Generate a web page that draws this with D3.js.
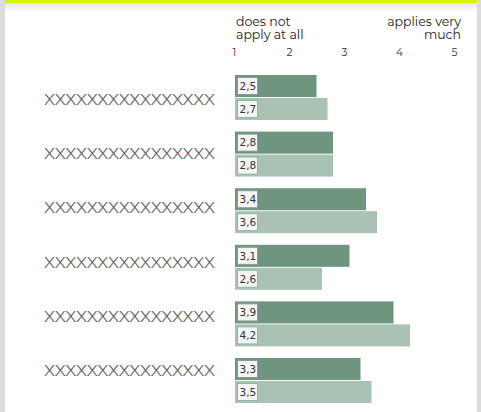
<!DOCTYPE html>
<html><head><meta charset="utf-8">
<script src="https://cdn.jsdelivr.net/npm/d3@7"></script>
<style>html,body{margin:0;padding:0;background:#fff;}svg{display:block;}</style>
</head><body>
<svg id="c" width="481" height="412"></svg>
<script>
const categories = ["XXXXXXXXXXXXXXXX","XXXXXXXXXXXXXXXX ","XXXXXXXXXXXXXXXX  ","XXXXXXXXXXXXXXXX   ","XXXXXXXXXXXXXXXX    ","XXXXXXXXXXXXXXXX     "];
const series = ["a","b"];
const valuesA = [2.5, 2.8, 3.4, 3.1, 3.9, 3.3];
const valuesB = [2.7, 2.8, 3.6, 2.6, 4.2, 3.5];
const tickValues = [1,2,3,4,5];
const headerLeft = ["does not","apply at all"];
const headerRight = ["applies very","much"];

const svg = d3.select("#c");
const font = "Montserrat, 'Open Sans', 'DejaVu Sans', sans-serif";

// card background
svg.append("rect").attr("x",0).attr("y",0).attr("width",481).attr("height",412).attr("fill","#ffffff");
svg.append("rect").attr("x",0).attr("y",0).attr("width",5).attr("height",412).attr("fill","#dcdcdc");
svg.append("rect").attr("x",477).attr("y",0).attr("width",4).attr("height",412).attr("fill","#dcdcdc");
const defs = svg.append("defs");
const g1 = defs.append("linearGradient").attr("id","sh").attr("x1",0).attr("x2",0).attr("y1",0).attr("y2",1);
g1.append("stop").attr("offset","0%").attr("stop-color","#e6e6e6");
g1.append("stop").attr("offset","100%").attr("stop-color","#ffffff");
svg.append("rect").attr("x",5).attr("y",3).attr("width",472).attr("height",9).attr("fill","url(#sh)");
svg.append("rect").attr("x",5).attr("y",0).attr("width",472).attr("height",3).attr("fill","#d7f500");

const x = d3.scaleLinear().domain([1,5]).range([234,454]);
const y = d3.scaleBand().domain(categories).range([75,403]).paddingInner(0.205).paddingOuter(0).align(0);
const ys = d3.scaleBand().domain(series).range([0,y.bandwidth()]).paddingInner(0.04);
const yl = d3.scalePoint().domain(categories).range([100,371]);
const color = d3.scaleOrdinal().domain(series).range(["#6f957e","#a9c2b3"]);
const boxStroke = d3.scaleOrdinal().domain(series).range(["#8f9a93","#8db7a0"]);

// headers (one text per line)
svg.append("g").selectAll("text").data(headerLeft).join("text")
  .attr("x",236).attr("y",(d,i)=>26+i*13).attr("font-family",font).attr("font-size",12.5).attr("fill","#222").text(d=>d);
svg.append("g").selectAll("text").data(headerRight).join("text")
  .attr("x",461).attr("y",(d,i)=>26+i*13).attr("text-anchor","end").attr("font-family",font).attr("font-size",12.5).attr("fill","#222").text(d=>d);

// axis ticks
const axis = d3.axisTop(x).tickValues(tickValues).tickSize(0).tickPadding(0).tickFormat(d3.format("d"));
const ax = svg.append("g").attr("transform","translate(0,56)").call(axis);
ax.select(".domain").remove();
ax.selectAll("text").attr("font-family",font).attr("font-size",10.5).attr("fill","#333");

// category labels
svg.append("g").selectAll("text").data(categories).join("text")
  .attr("x",215).attr("y",d=>yl(d)).attr("dy","0.36em").attr("text-anchor","end")
  .attr("font-family",font).attr("font-size",14).attr("fill","#666")
  .attr("textLength",171).attr("lengthAdjust","spacingAndGlyphs")
  .text(d=>d.trim());

const rows = categories.map((c,i)=>({c, vals:[{s:"a",v:valuesA[i]},{s:"b",v:valuesB[i]}]}));
const grp = svg.append("g").selectAll("g").data(rows).join("g").attr("transform",d=>`translate(0,${y(d.c)})`);
const bar = grp.selectAll("g").data(d=>d.vals).join("g").attr("transform",d=>`translate(0,${ys(d.s)})`);
bar.append("rect").attr("x",x(1)+1).attr("y",0).attr("width",d=>x(d.v)-x(1)-1).attr("height",ys.bandwidth()).attr("fill",d=>color(d.s));
bar.append("rect").attr("x",x(1)+3.5).attr("y",2.5).attr("width",20).attr("height",ys.bandwidth()-5)
  .attr("fill","#f5f5f5").attr("stroke",d=>boxStroke(d.s)).attr("stroke-width",1);
bar.append("text").attr("x",x(1)+5.5).attr("y",ys.bandwidth()/2).attr("dy","0.36em")
  .attr("font-family","'DejaVu Sans', sans-serif").attr("font-size",10.5).attr("fill","#333")
  .text(d=>String(d.v.toFixed(1)).replace(".",","));
</script>
</body></html>
